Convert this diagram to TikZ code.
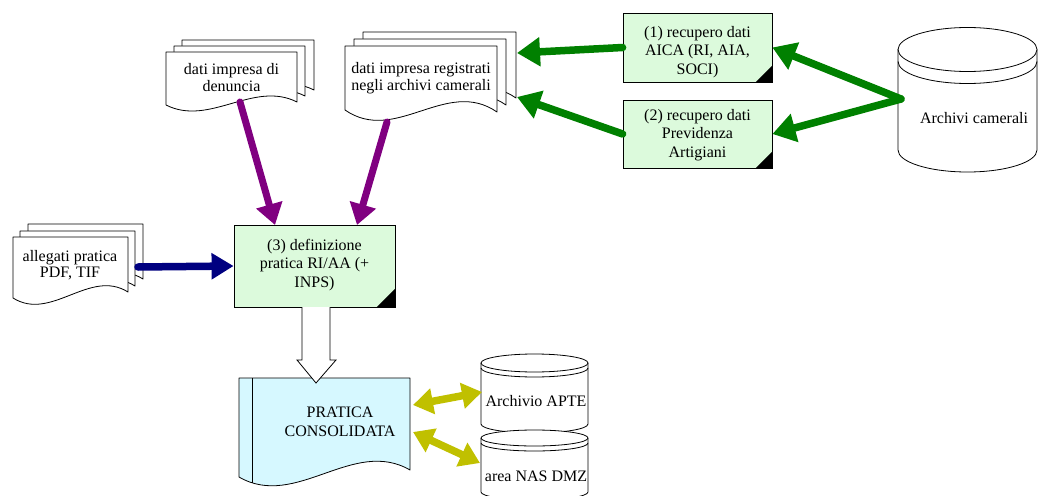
\documentclass[tikz,border=0pt]{standalone}
\usepackage{fontspec}
\setmainfont{Liberation Serif}
\usetikzlibrary{arrows.meta}
\definecolor{boxgreen}{RGB}{220,250,220}
\definecolor{pracyan}{RGB}{214,248,255}
\definecolor{arrgreen}{RGB}{0,128,0}
\definecolor{arrpurple}{RGB}{128,0,128}
\definecolor{arrnavy}{RGB}{0,0,128}
\definecolor{arryellow}{RGB}{192,192,0}
% #1 x, #2 top, #3 width, #4 left height, #5 right rise, #6 wave control, #7 command
\newcommand{\docdo}[7]{#7 (#1,#2) -- ({#1+#3},#2) -- ({#1+#3},{#2+#4-#5}) .. controls ({#1+0.667*#3},{#2+#4-#5-#6}) and ({#1+0.333*#3},{#2+#4+#6}) .. (#1,{#2+#4}) -- cycle;}
% cylinder: #1 left x, #2 top ellipse centre y, #3 rx, #4 ry, #5 bottom centre y, #6 extra offset
\newcommand{\cyldraw}[6]{%
  \fill[white] (#1,#2) -- (#1,#5) arc[start angle=180,end angle=0,x radius=#3,y radius=#4] -- ({#1+2*#3},#2) -- cycle;
  \draw[cylline] (#1,#2) -- (#1,#5) arc[start angle=180,end angle=0,x radius=#3,y radius=#4] -- ({#1+2*#3},#2);
  \draw[cylline,fill=white] ({#1+#3},#2) ellipse[x radius=#3,y radius=#4];
  \draw[cylline] (#1,{#2+#6}) arc[start angle=180,end angle=0,x radius=#3,y radius=#4];
}
\tikzset{
  page/.style={draw=black,fill=white,line width=0.8pt,line join=round},
  cylline/.style={draw=black,line width=0.8pt},
  procbox/.style={draw=black,fill=boxgreen,line width=0.8pt,inner sep=0pt},
  txt/.style={align=center,inner sep=0pt,font=\fontsize{16}{18.5}\selectfont},
  dtxt/.style={align=center,inner sep=0pt,font=\fontsize{16}{16.5}\selectfont},
  garrow/.style={draw=arrgreen,line width=7.5pt,line cap=round,-{Triangle[length=23pt,width=28pt]}},
  parrow/.style={draw=arrpurple,line width=7pt,line cap=round,-{Triangle[length=21pt,width=26pt]}},
  narrow/.style={draw=arrnavy,line width=7.5pt,line cap=round,-{Triangle[length=22pt,width=25pt]}},
  yarrow/.style={draw=arryellow,line width=7.5pt,{Triangle[length=20pt,width=25pt]}-{Triangle[length=20pt,width=25pt]}},
  corner/.style={fill=black},
}
\begin{document}
\begin{tikzpicture}[x=1pt,y=-1pt]
\useasboundingbox (0,0) rectangle (1038,495);

% document stack: dati impresa di denuncia
\docdo{182}{40}{132}{53}{3}{22}{\draw[page]}
\docdo{174}{46}{131}{53}{3}{22}{\draw[page]}
\docdo{166}{52}{131}{53}{3}{22}{\draw[page]}
\node[dtxt] (d1) at (231.5,77.5) {dati impresa di\\denuncia};

% document stack: dati impresa registrati
\docdo{363}{32}{153}{64}{-2}{35}{\draw[page]}
\docdo{354}{39}{152}{64}{-2}{35}{\draw[page]}
\docdo{345}{46}{152}{64}{-2}{35}{\draw[page]}
\node[dtxt] (d2) at (421,78) {dati impresa registrati\\negli archivi camerali};

% document stack: allegati
\docdo{28}{224}{115}{61}{6}{24}{\draw[page]}
\docdo{20}{231}{115}{61}{6}{24}{\draw[page]}
\docdo{13}{237}{115}{61}{6}{24}{\draw[page]}
\node[dtxt] (d3) at (70,265) {allegati pratica\\PDF, TIF};

% process boxes
\node[procbox,minimum width=149pt,minimum height=69pt] (b1) at (697.5,47.5) {};
\fill[corner] (b1.south east) -- ++(-17,0) -- ++(17,-17) -- cycle;
\node[txt] (b1t) at (697.5,52) {(1) recupero dati\\AICA (RI, AIA,\\SOCI)};

\node[procbox,minimum width=149pt,minimum height=68pt] (b2) at (697.5,134) {};
\fill[corner] (b2.south east) -- ++(-17,0) -- ++(17,-17) -- cycle;
\node[txt] (b2t) at (697.5,135) {(2) recupero dati\\Previdenza\\Artigiani};

\node[procbox,minimum width=161pt,minimum height=82pt] (b3) at (314.5,266) {};
\fill[corner] (b3.south east) -- ++(-19,0) -- ++(19,-19) -- cycle;
\node[txt] (b3t) at (314.5,265) {(3) definizione\\pratica RI/AA (+\\INPS)};

% pratica consolidata
\docdo{239}{378}{171}{99}{7}{33}{\draw[page,fill=pracyan]}
\begin{scope}
\docdo{239}{378}{171}{99}{7}{33}{\clip}
\draw[line width=0.8pt] (252,378) -- (252,500);
\end{scope}
\node[txt] (pc) at (340,422) {PRATICA\\CONSOLIDATA};

% cylinders
\cyldraw{898}{49.5}{69.5}{22}{150}{12}
\node[txt] (ac) at (974,118) {Archivi camerali};
\cyldraw{481}{363}{53.5}{9}{424}{5}
\node[txt] (apte) at (536,401) {Archivio APTE};
\cyldraw{481}{438}{53.5}{8}{492}{5}
\node[txt] (nas) at (536,476) {area NAS DMZ};

% connector end points
\coordinate (d2a) at (517,53);
\coordinate (d2b) at (517,97);
\coordinate (acl) at (901,99);
\coordinate (d1b) at (240,102);
\coordinate (d2c) at (387,122);
\coordinate (b3a) at (275,225);
\coordinate (b3b) at (357,225);
\coordinate (d3r) at (138,267);
\coordinate (pcr1) at (413,405);
\coordinate (apl) at (482,392);
\coordinate (pcr2) at (413,432);
\coordinate (nasl) at (480,463);

% block arrow
\draw[line width=0.8pt,fill=white,line join=miter] (302,307) -- (302,360) -- (297,360) -- (316,383) -- (336,360) -- (330,360) -- (330,307);

% arrows
\draw[garrow] (b1.west) -- (d2a);
\draw[garrow] (b2.west) -- (d2b);
\draw[garrow] (acl) -- (b1.east);
\draw[garrow] (acl) -- (b2.east);
\draw[parrow] (d1b) -- (b3a);
\draw[parrow] (d2c) -- (b3b);
\draw[narrow] (d3r) -- (b3.west);
\draw[yarrow] (pcr1) -- (apl);
\draw[yarrow] (pcr2) -- (nasl);
\end{tikzpicture}
\end{document}
